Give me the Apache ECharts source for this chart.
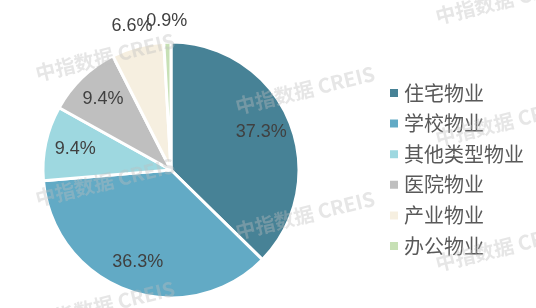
<!DOCTYPE html>
<html><head><meta charset="utf-8">
<script src="https://cdn.jsdelivr.net/npm/echarts@6/dist/echarts.min.js"></script>
<style>html,body{margin:0;padding:0;background:#fff}#c{width:536px;height:308px}</style>
</head><body><div id="c"></div>
<script>
const categories = ['住宅物业','学校物业','其他类型物业','医院物业','产业物业','办公物业'];
const values = [37.3, 36.3, 9.4, 9.4, 6.6, 0.9];
const colors = ['#478296','#62aac5','#9ed8e0','#bfbfbf','#f6efe0','#c7e0b5'];

const smallLimit = 8;
const chart = echarts.init(document.getElementById('c'));
const base = categories.map((n,i)=>({name:n,value:values[i]}));
const labelStyle = {color:'#404040', fontSize:18, fontFamily:'Liberation Sans'};
const fmt = p => p.value.toFixed(1) + '%';

const wmPos = [[105,57],[305,90],[505,122],[105,182],[305,215],[505,247],[105,305],[505,0],[305,-35]];
const graphic = wmPos.map(p=>({
  type:'text', x:p[0], y:p[1], rotation:0.24, z:100, silent:true,
  style:{text:'中指数据 CREIS', fill:'rgba(190,190,190,0.38)', font:'bold 20px "Noto Sans CJK SC"', align:'center', verticalAlign:'middle'}
}));

chart.setOption({
  animation:false,
  color: colors,
  graphic: graphic,
  legend:{
    orient:'vertical', left:383, top:78,
    icon:'rect', itemWidth:10, itemHeight:10, itemGap:10.6, itemTextGap:7,
    data: categories,
    textStyle:{color:'#595959', fontSize:20, fontFamily:'Noto Sans CJK SC', lineHeight:20}
  },
  series:[
    {
      type:'pie', center:[171,170], radius:128, startAngle:90, clockwise:true,
      data: base, label:{show:false}, labelLine:{show:false},
      itemStyle:{borderColor:'#fff', borderWidth:3}
    },
    {
      type:'pie', center:[171,170], radius:[62,128], startAngle:90, silent:true, legendHoverLink:false,
      data: base.map(d=>({name:d.name, value:d.value, label:{show:d.value>=smallLimit}})),
      itemStyle:{color:'rgba(0,0,0,0)'},
      label:Object.assign({position:'inside', formatter:fmt}, labelStyle), labelLine:{show:false},
      labelLayout:{hideOverlap:false}
    },
    {
      type:'pie', center:[171,170], radius:[128,164], startAngle:90, silent:true, legendHoverLink:false,
      data: base.map(d=>({name:d.name, value:d.value, label:{show:d.value<smallLimit}})),
      itemStyle:{color:'rgba(0,0,0,0)'},
      label:Object.assign({position:'inside', formatter:fmt}, labelStyle), labelLine:{show:false},
      labelLayout:{hideOverlap:false}
    }
  ]
});
</script></body></html>
